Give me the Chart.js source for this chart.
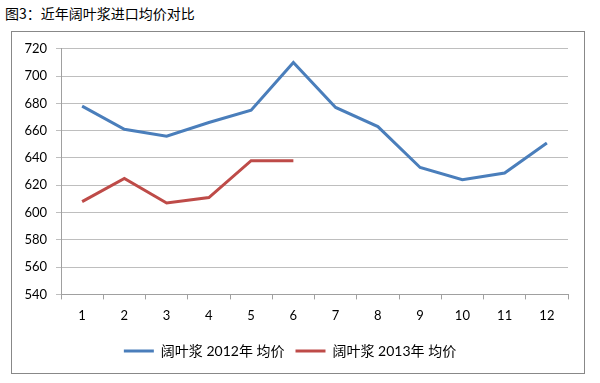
<!DOCTYPE html>
<html><head><meta charset="utf-8">
<script src="https://cdn.jsdelivr.net/npm/chart.js@4"></script>
<style>
html,body{margin:0;padding:0;background:#fff;width:600px;height:383px;overflow:hidden;}
#title{position:absolute;left:5px;top:4px;font:14px 'Noto Sans CJK SC',sans-serif;color:#000;line-height:18px;}
#box{position:absolute;left:11px;top:31px;width:572px;height:341px;border:1px solid #888;}
canvas{display:block;}
</style></head><body>
<div id="title">图3：近年阔叶浆进口均价对比</div>
<div id="box"><canvas id="c" width="572" height="341"></canvas></div>
<script>
const categories = ['1','2','3','4','5','6','7','8','9','10','11','12'];
const series2012 = [678, 661, 656, 666, 675, 710, 677, 663, 633, 624, 629, 651];
const series2013 = [608, 625, 607, 611, 638, 638, null, null, null, null, null, null];
const seriesNames = ['阔叶浆 2012年 均价', '阔叶浆 2013年 均价'];
const yMin = 540, yMax = 720, yStep = 20;

const fontFam = "Lato, 'Noto Sans CJK SC', sans-serif";
new Chart(document.getElementById('c'), {
  type: 'line',
  data: {
    labels: categories,
    datasets: [
      {label: seriesNames[0], data: series2012, borderColor: '#4A7EBB', backgroundColor: '#4A7EBB', borderWidth: 3, pointRadius: 0, tension: 0, spanGaps: false},
      {label: seriesNames[1], data: series2013, borderColor: '#BE4B48', backgroundColor: '#BE4B48', borderWidth: 3, pointRadius: 0, tension: 0, spanGaps: false}
    ]
  },
  options: {
    responsive: false,
    animation: false,
    layout: {padding: {left: 0, right: 16, top: 15, bottom: 5}},
    plugins: {
      tooltip: {enabled: false},
      legend: {
        position: 'bottom',
        labels: {
          usePointStyle: true, pointStyle: 'line', pointStyleWidth: 30, boxHeight: 14,
          color: '#000', font: {family: fontFam, size: 14}, padding: 11
        }
      }
    },
    scales: {
      x: {
        offset: true,
        grid: {display: true, drawOnChartArea: false, drawTicks: true, tickLength: 5, color: '#A0A0A0', offset: true},
        border: {display: true, color: '#A0A0A0'},
        ticks: {color: '#000', font: {family: fontFam, size: 13}, padding: 9, maxRotation: 0}
      },
      y: {
        min: yMin, max: yMax,
        afterFit: s => { s.width = 49; },
        grid: {color: '#BEBEBE', drawTicks: true, tickLength: 5},
        border: {display: true, color: '#A0A0A0'},
        ticks: {stepSize: yStep, color: '#000', font: {family: fontFam, size: 13}, padding: 9}
      }
    }
  }
});
</script>
</body></html>
